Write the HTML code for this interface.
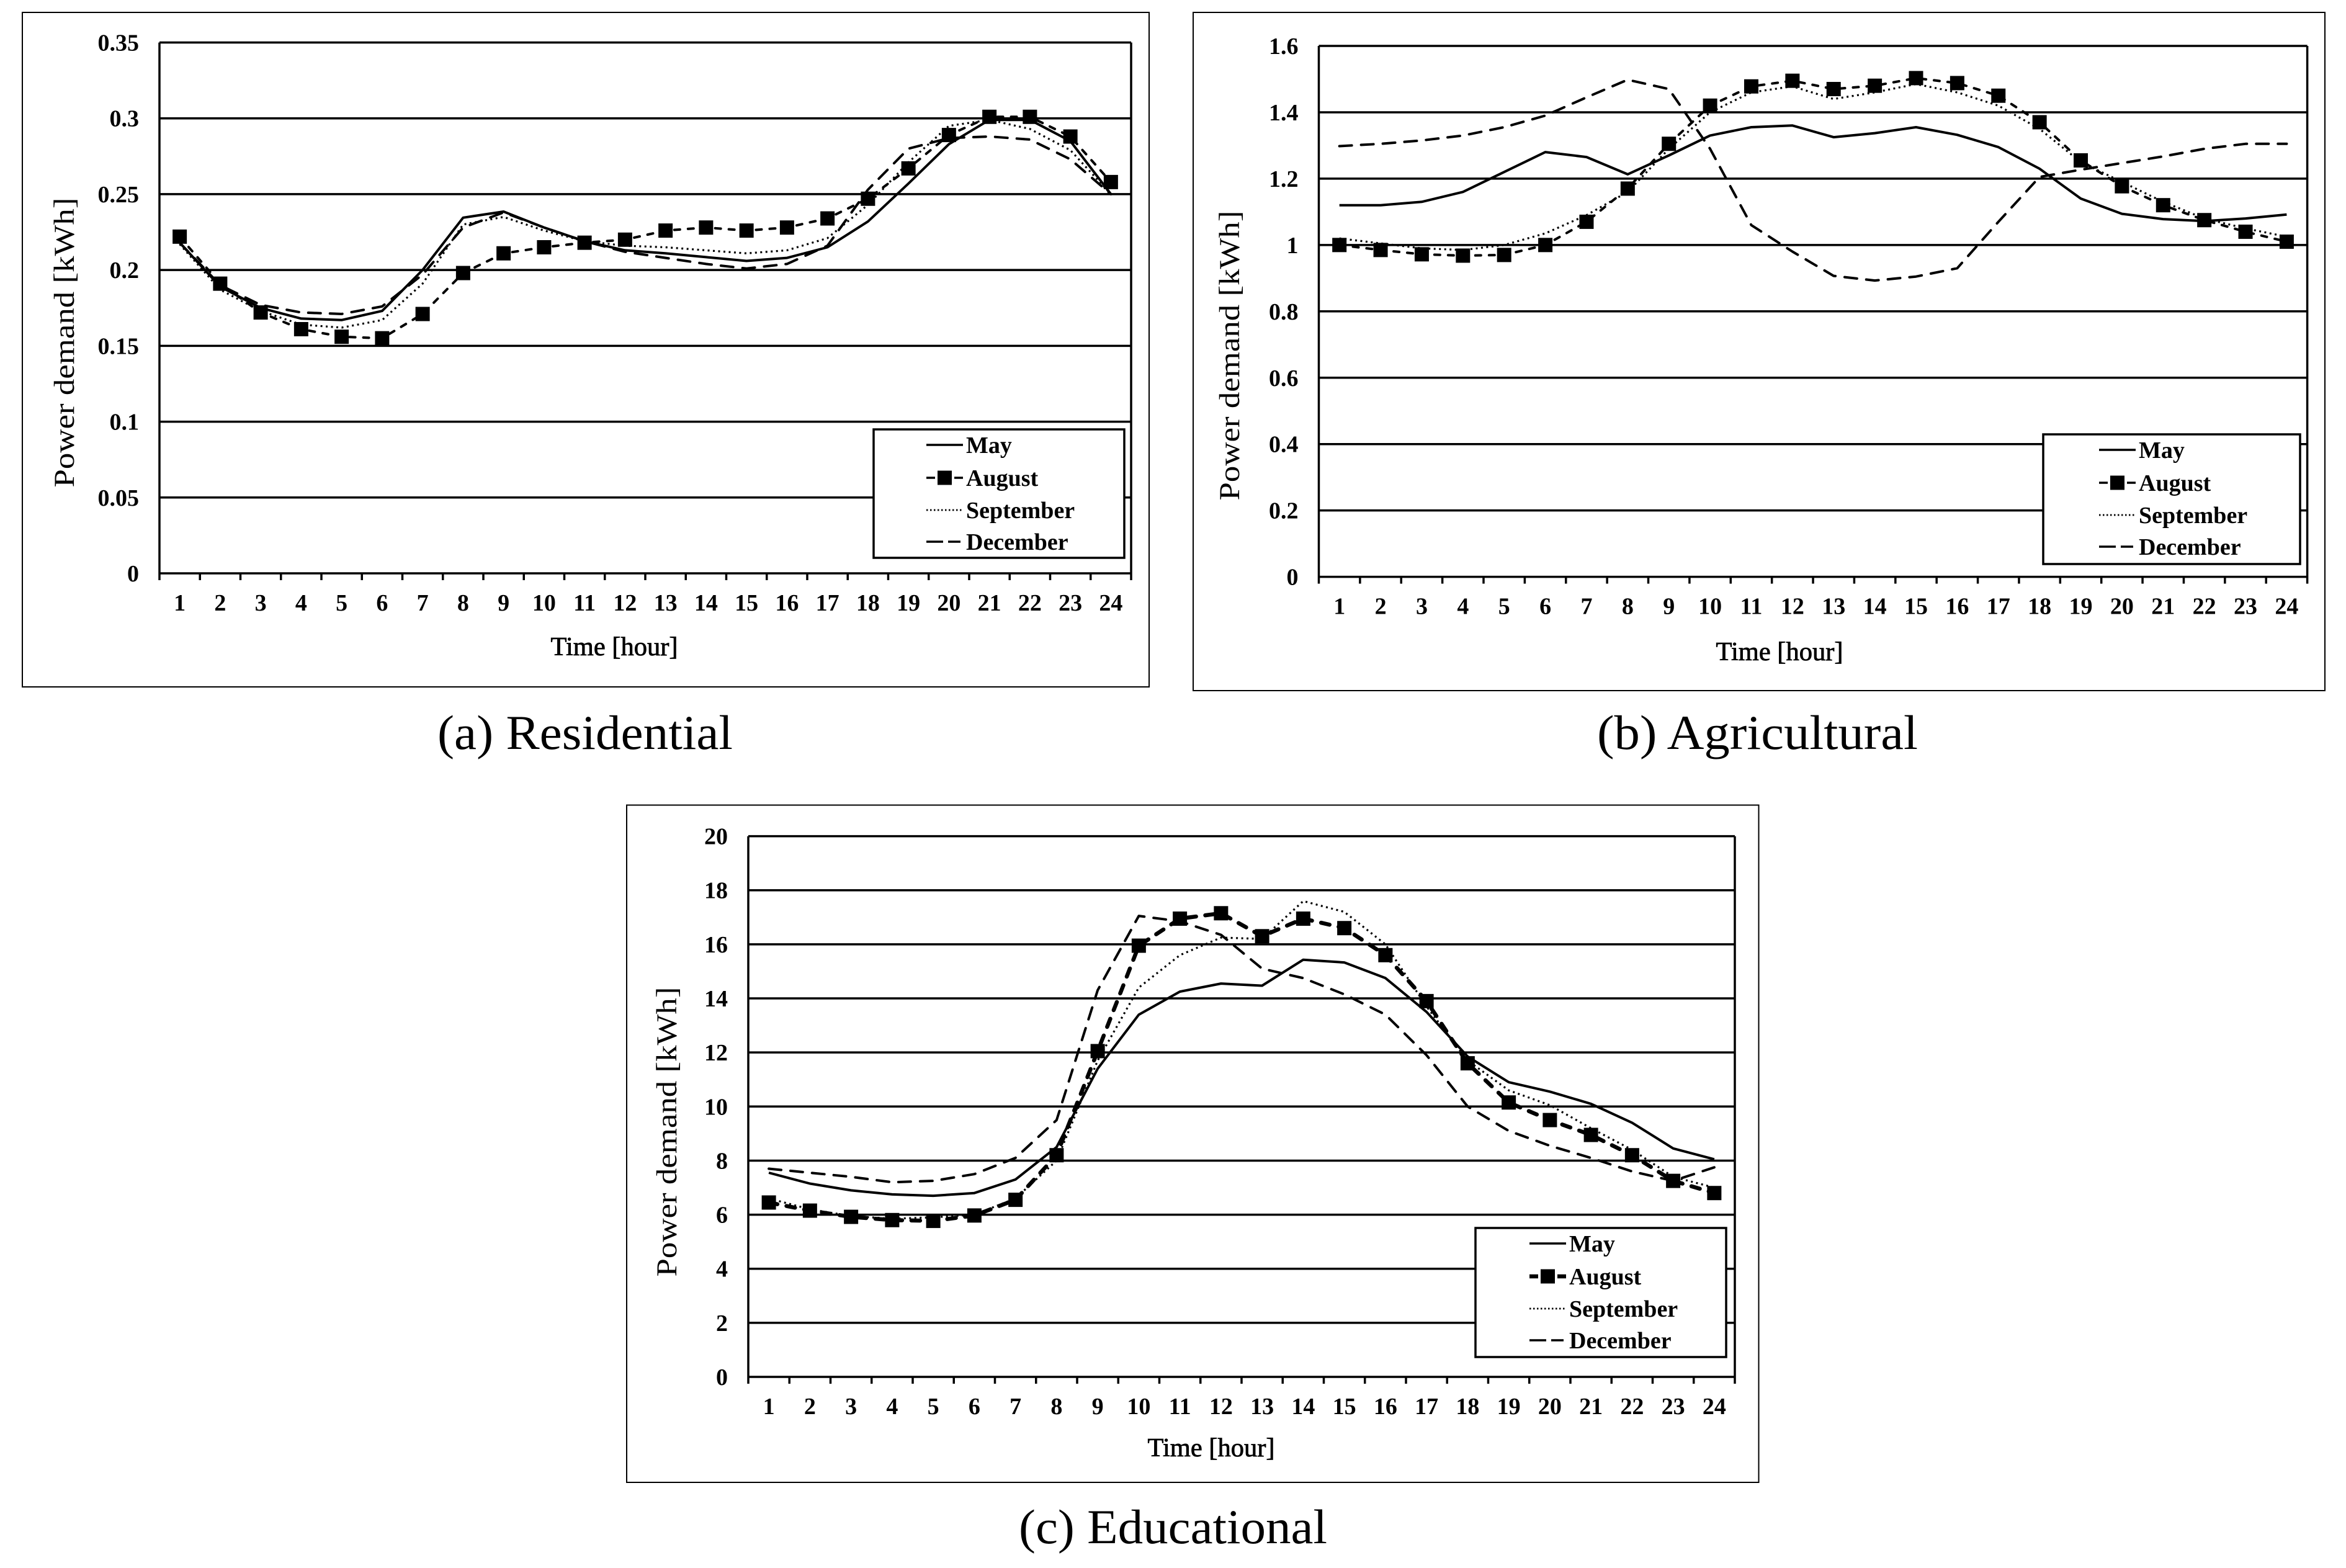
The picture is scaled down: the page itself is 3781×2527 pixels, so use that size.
<!DOCTYPE html>
<html lang="en">
<head>
<meta charset="utf-8">
<title>Power demand by hour</title>
<style>
html,body{margin:0;padding:0;background:#fff;}
svg{display:block;font-family:"Liberation Serif",serif;}
</style>
</head>
<body>
<svg id="figure" xmlns="http://www.w3.org/2000/svg" width="3781" height="2527" viewBox="0 0 3781 2527">
<rect x="0" y="0" width="3781" height="2527" fill="#fff"/>
</svg>
<script>
const hours = ["1","2","3","4","5","6","7","8","9","10","11","12","13","14","15","16","17","18","19","20","21","22","23","24"];
const seriesNames = ["May","August","September","December"];

const residentialTicks = ["0","0.05","0.1","0.15","0.2","0.25","0.3","0.35"];
const residentialMay = [0.218,0.189,0.175,0.168,0.167,0.173,0.2,0.2345,0.2385,0.228,0.219,0.213,0.211,0.2085,0.206,0.208,0.215,0.232,0.257,0.283,0.299,0.299,0.285,0.25];
const residentialAugust = [0.222,0.191,0.172,0.161,0.156,0.155,0.171,0.198,0.211,0.215,0.218,0.22,0.226,0.228,0.226,0.228,0.234,0.247,0.267,0.289,0.301,0.301,0.288,0.258];
const residentialSeptember = [0.217,0.187,0.173,0.164,0.162,0.167,0.191,0.23,0.235,0.226,0.219,0.216,0.215,0.213,0.211,0.213,0.221,0.243,0.271,0.295,0.299,0.293,0.279,0.25];
const residentialDecember = [0.218,0.19,0.177,0.172,0.171,0.176,0.197,0.228,0.238,0.228,0.219,0.212,0.208,0.204,0.201,0.204,0.216,0.253,0.28,0.287,0.288,0.286,0.273,0.25];

const agriculturalTicks = ["0","0.2","0.4","0.6","0.8","1","1.2","1.4","1.6"];
const agriculturalMay = [1.12,1.12,1.13,1.16,1.22,1.28,1.265,1.213,1.27,1.33,1.355,1.36,1.325,1.337,1.355,1.332,1.295,1.23,1.14,1.094,1.078,1.072,1.08,1.092];
const agriculturalAugust = [1.0,0.985,0.972,0.968,0.97,1.0,1.07,1.17,1.305,1.42,1.478,1.495,1.47,1.48,1.503,1.488,1.45,1.37,1.255,1.177,1.12,1.075,1.04,1.01];
const agriculturalSeptember = [1.02,1.005,0.99,0.985,1.0,1.035,1.09,1.16,1.29,1.4,1.46,1.478,1.44,1.46,1.485,1.46,1.42,1.35,1.25,1.19,1.13,1.08,1.05,1.025];
const agriculturalDecember = [1.298,1.305,1.315,1.33,1.355,1.39,1.445,1.498,1.47,1.29,1.06,0.98,0.907,0.893,0.905,0.93,1.07,1.205,1.227,1.247,1.267,1.29,1.305,1.305];

const educationalTicks = ["0","2","4","6","8","10","12","14","16","18","20"];
const educationalMay = [7.55,7.15,6.9,6.75,6.7,6.8,7.3,8.5,11.4,13.4,14.25,14.55,14.47,15.43,15.33,14.75,13.5,11.85,10.9,10.55,10.1,9.4,8.45,8.05];
const educationalAugust = [6.45,6.15,5.92,5.8,5.77,5.97,6.55,8.2,12.05,15.95,16.95,17.15,16.3,16.95,16.6,15.6,13.9,11.6,10.15,9.5,8.95,8.2,7.25,6.8];
const educationalSeptember = [6.6,6.2,5.95,5.85,5.9,6.0,6.6,8.0,11.7,14.4,15.6,16.25,16.2,17.6,17.2,16.0,13.7,11.7,10.6,10.05,9.2,8.4,7.4,7.0];
const educationalDecember = [7.7,7.55,7.4,7.2,7.25,7.5,8.1,9.5,14.3,17.05,16.85,16.35,15.1,14.75,14.15,13.4,11.9,10.0,9.1,8.55,8.1,7.6,7.25,7.75];

const NS = "http://www.w3.org/2000/svg";
const figure = document.getElementById("figure");

function make(parent, tag, props, text) {
  const el = document.createElementNS(NS, tag);
  for (const k in props) el.setAttribute(k, props[k]);
  if (text !== undefined) el.textContent = text;
  parent.appendChild(el);
  return el;
}

const seriesStyles = [
  {dash: "none", width: 4, cap: "butt"},
  {dash: "9 13", width: 4, cap: "round"},
  {dash: "3 5.5", width: 3.2, cap: "butt"},
  {dash: "20 15", width: 4, cap: "round"}
];
const legendDashes = ["none", "14 31 14", "2.5 3.5", "27 8 20"];

function drawChart(c) {
  const g = make(figure, "g", {});
  
  

  const frame = make(g, "rect", {x: c.frame[0], y: c.frame[1], width: c.frame[2] - c.frame[0], height: c.frame[3] - c.frame[1], fill: "#fff", stroke: "#000", "stroke-width": 2});
  
  

  const L = c.plot[0], T = c.plot[1], R = c.plot[2], B = c.plot[3];
  const tickValues = c.ticks.map(Number);
  const yMax = tickValues[tickValues.length - 1];
  const xBand = (R - L) / c.categories.length;
  const xScale = i => L + (i + 0.5) * xBand;
  const yScale = v => B - (v / yMax) * (B - T);

  c.ticks.forEach((label, i) => {
    const y = yScale(tickValues[i]);
    const line = make(g, "line", {x1: L, x2: R, y1: y, y2: y, stroke: "#000", "stroke-width": 3.5});
    
    
    const t = make(g, "text", {x: L - 33, y: y + 13, "text-anchor": "end", "font-size": 38, "font-weight": "bold"}, label);
    
    
  });

  const yAxis = make(g, "line", {x1: L, x2: L, y1: T, y2: B + 11, stroke: "#000", "stroke-width": 3.5});
  
  
  const rightEdge = make(g, "line", {x1: R, x2: R, y1: T, y2: B + 11, stroke: "#000", "stroke-width": 3.5});
  
  

  c.categories.forEach((label, i) => {
    if (i > 0) {
      const tx = xScale(i) - xBand / 2;
      const tick = make(g, "line", {x1: tx, x2: tx, y1: B, y2: B + 11, stroke: "#000", "stroke-width": 3.5});
      
      
    }
    const t = make(g, "text", {x: xScale(i), y: B + 60, "text-anchor": "middle", "font-size": 38, "font-weight": "bold"}, label);
    
    
  });

  const xTitle = make(g, "text", {x: c.xTitle[0], y: c.xTitle[1], "text-anchor": "middle", "font-size": 42.5, stroke: "#000", "stroke-width": 0.8}, "Time [hour]");
  
  

  const yTitle = make(g, "text", {x: 0, y: 0, "text-anchor": "middle", "font-size": 47, textLength: 467, lengthAdjust: "spacingAndGlyphs", transform: "translate(" + c.yTitle[0] + " " + c.yTitle[1] + ") rotate(-90)"}, "Power demand [kWh]");
  
  

  const order = [0, 2, 3, 1];
  order.forEach(si => {
    const values = c.series[si];
    const style = seriesStyles[si];
    const bold = si === 1 && c.boldAugust;
    const pts = values.map((v, i) => xScale(i).toFixed(1) + "," + yScale(v).toFixed(1)).join(" ");
    const poly = make(g, "polyline", {points: pts, fill: "none", stroke: "#000", "stroke-width": bold ? 6.5 : style.width, "stroke-dasharray": bold ? "14 15" : style.dash, "stroke-linecap": style.cap, "stroke-linejoin": "round"});
    
    
    if (si === 1) {
      values.forEach((v, i) => {
        const m = make(g, "rect", {x: xScale(i) - 11.5, y: yScale(v) - 11.5, width: 23, height: 23, fill: "#000"});
        
        
      });
    }
  });

  const lx = c.legend[0], ly = c.legend[1], shift = c.legend[4];
  const legend = make(g, "g", {});
  
  
  const box = make(legend, "rect", {x: lx, y: ly, width: c.legend[2] - lx, height: c.legend[3] - ly, fill: "#fff", stroke: "#000", "stroke-width": 3.5});
  
  
  const rowOffsets = [25, 78, 130, 181];
  seriesNames.forEach((name, si) => {
    const ry = ly + rowOffsets[si];
    const bold = si === 1 && c.boldAugust;
    const sample = make(legend, "line", {x1: lx + 85 + shift, x2: lx + 144 + shift, y1: ry, y2: ry, stroke: "#000", "stroke-width": bold ? 6.5 : (si === 2 ? 2.8 : 3.5), "stroke-dasharray": legendDashes[si]});
    
    
    if (si === 1) {
      const m = make(legend, "rect", {x: lx + 103 + shift, y: ry - 11.5, width: 23, height: 23, fill: "#000"});
      
      
    }
    const t = make(legend, "text", {x: lx + 149 + shift, y: ry + 13, "font-size": 38, "font-weight": "bold"}, name);
    
    
  });

  const cap = make(figure, "text", {x: c.caption[0], y: c.caption[1], "font-size": 78, textLength: c.caption[2], lengthAdjust: "spacingAndGlyphs"}, c.captionText);
  
  
}

drawChart({
  key: "residential", captionText: "(a) Residential",
  categories: hours, ticks: residentialTicks,
  series: [residentialMay, residentialAugust, residentialSeptember, residentialDecember],
  frame: [36, 20, 1852, 1107], plot: [257, 68.5, 1823, 924],
  legend: [1408, 692, 1812, 899, 0], xTitle: [990, 1056], yTitle: [119, 552],
  caption: [705, 1207, 476], boldAugust: false
});
drawChart({
  key: "agricultural", captionText: "(b) Agricultural",
  categories: hours, ticks: agriculturalTicks,
  series: [agriculturalMay, agriculturalAugust, agriculturalSeptember, agriculturalDecember],
  frame: [1923, 20, 3747, 1113], plot: [2125.5, 74, 3718.6, 929.6],
  legend: [3293, 700, 3707, 909, 5], xTitle: [2868, 1064], yTitle: [1997, 573],
  caption: [2574, 1207, 517], boldAugust: false
});
drawChart({
  key: "educational", captionText: "(c) Educational",
  categories: hours, ticks: educationalTicks,
  series: [educationalMay, educationalAugust, educationalSeptember, educationalDecember],
  frame: [1010, 1297.5, 2834.5, 2389], plot: [1206, 1347.6, 2796, 2219],
  legend: [2378, 1979, 2782, 2187, 2], xTitle: [1952, 2347], yTitle: [1090, 1824],
  caption: [1642, 2487, 497], boldAugust: true
});
</script>
</body>
</html>
